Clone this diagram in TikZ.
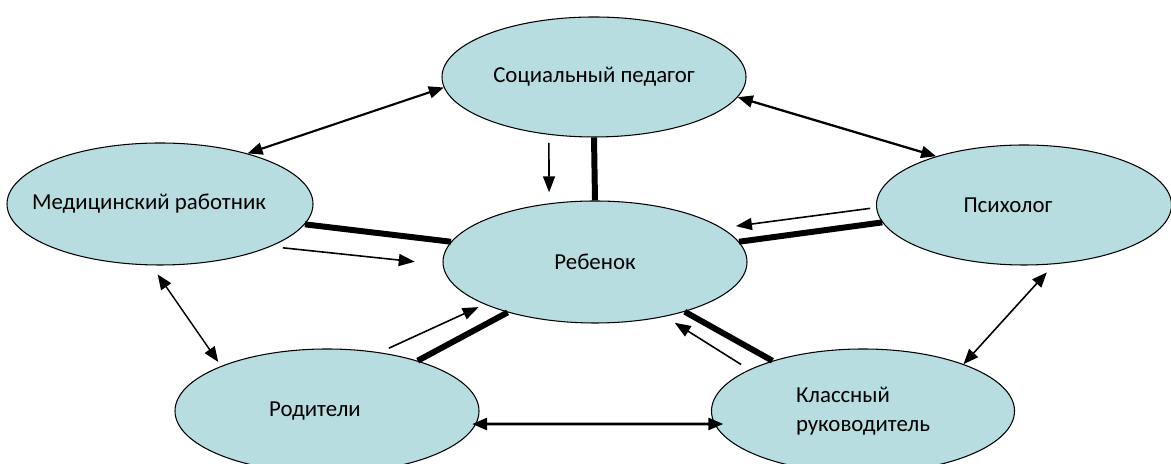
\documentclass[tikz,border=0pt]{standalone}
\usepackage{fontspec}
\setmainfont{Carlito}
\usepackage{tikz}
\usetikzlibrary{shapes.geometric}
\usetikzlibrary{arrows.meta}
\definecolor{rolefill}{RGB}{183,221,225}
\newcommand{\flatlabel}[1]{\makebox[0pt]{#1}}

\begin{document}
\begin{tikzpicture}[
  role/.style={ellipse, draw, line width=0.6pt, fill=rolefill, inner sep=0pt, font=\fontsize{13}{16.5}\selectfont},
  link/.style={{Triangle[length=3mm,width=2.4mm]}-{Triangle[length=3mm,width=2.4mm]}},
  flow/.style={line width=0.9pt, -{Triangle[length=3.2mm,width=2.4mm]}},
  bond/.style={line width=3.4pt},
]
\useasboundingbox (0, 0) rectangle (23.42, 9.28);
% Participants
\node[role, minimum width=6.08cm, minimum height=2.4cm] (soc) at (11.88, 7.74) {\flatlabel{Социальный педагог}};
\node[role, minimum width=6.12cm, minimum height=2.44cm] (med) at (3.20, 5.20) {\flatlabel{Медицинский работник\hspace{0.44cm}}};
\node[role, minimum width=5.9cm, minimum height=2.4cm] (psy) at (20.48, 5.18) {\flatlabel{Психолог\hspace{0.64cm}}};
\node[role, minimum width=6.08cm, minimum height=2.44cm] (child) at (11.90, 4.04) {\flatlabel{Ребенок}};
\node[role, minimum width=6.08cm, minimum height=2.48cm] (par) at (6.54, 1.06) {\flatlabel{Родители\hspace{0.48cm}}};
\node[role, align=left, minimum width=6.06cm, minimum height=2.48cm] (cls) at (17.26, 1.06) {Классный\\руководитель};
%
% Outer Ring Edges:
\draw[link, line width=1.2pt] (soc.184) -- (med.30);
\draw[link, line width=1.3pt] (soc.352) -- (psy.151);
\draw[link, line width=0.8pt, shorten <=0.22cm, shorten >=0.1cm] (med.262) -- (par.157);
\draw[link, line width=0.9pt, shorten <=0.22cm] (psy.297) -- (cls.25);
\draw[link, line width=1.6pt, shorten <=-0.08cm, shorten >=-0.18cm] (par.355) -- (cls.185);
%
% Edges to the Child:
\draw[bond] (soc.south) -- (child.north);
\draw[flow, shorten <=0.16cm, shorten >=0.22cm] (soc.232) -- (child.128);
\draw[bond] (med.352) -- (child.172);
\draw[flow, shorten <=0.24cm, shorten >=0.56cm] (med.339) -- (child.181);
\draw[bond] (psy.187) -- (child.8);
\draw[flow, shorten <=0.12cm, shorten >=0.28cm] (psy.181) -- (child.15);
\draw[bond] (par.29) -- (child.210);
\draw[flow, shorten <=0.2cm, shorten >=0.13cm] (par.48) -- (child.201);
\draw[bond] (cls.151) -- (child.331);
\draw[flow, shorten <=0.19cm, shorten >=0.23cm] (cls.160) -- (child.322);
\end{tikzpicture}
\end{document}
